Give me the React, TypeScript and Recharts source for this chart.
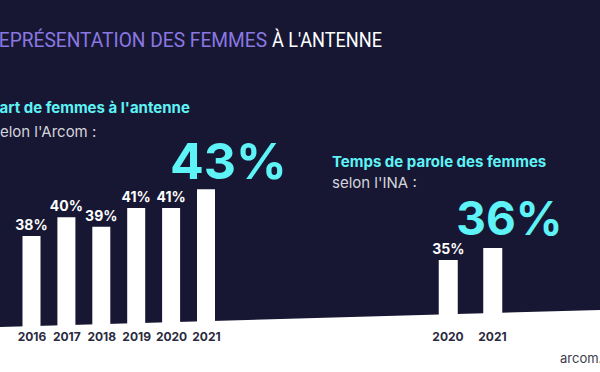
import { BarChart, Bar, XAxis, YAxis } from "recharts";

// Part de femmes à l'antenne (Arcom)
const arcomYears = ["2016", "2017", "2018", "2019", "2020", "2021"];
const arcomValues = [38, 40, 39, 41, 41, 43];

// Temps de parole des femmes (INA)
const inaYears = ["2020", "2021"];
const inaValues = [35, 36];

const arcomData = arcomYears.map((year, i) => ({ year, value: arcomValues[i] }));
const inaData = inaYears.map((year, i) => ({ year, value: inaValues[i] }));

const NAVY = "#171733";
const CYAN = "#5ef3f6";
const PURPLE = "#8a78e2";
const FONT = "Inter, 'Noto Sans', sans-serif";

function makeLabel(lastIndex: number, bigSize: number, bigGap: number) {
    return (props: any) => {
        const { x, y, width, value, index } = props;
        if (index === lastIndex) {
            return (
                <text x={x - 27} y={y - bigGap} fill={CYAN} fontFamily={FONT} fontWeight={700} fontSize={bigSize}>
                    {value}%
                </text>
            );
        }
        return (
            <text x={x + width / 2} y={y - 6} textAnchor="middle" fill="#ffffff" fontFamily={FONT} fontWeight={700} fontSize={14}>
                {value}%
            </text>
        );
    };
}

export default function App() {
    return (
        <div style={{ position: "fixed", left: 0, top: 0, width: 600, height: 372, background: NAVY, overflow: "hidden" }}>
            <svg width={600} height={372} style={{ position: "absolute", left: 0, top: 0 }}>
                <polygon points="0,327 600,310 600,372 0,372" fill="#ffffff" />
                <text x={-13} y={47} fill={PURPLE} fontFamily="'Liberation Sans Narrow', Roboto, sans-serif" fontSize={21} textLength={280} lengthAdjust="spacingAndGlyphs">
                    REPRÉSENTATION DES FEMMES
                </text>
                <text x={272} y={47} fill="#ffffff" fontFamily="'Liberation Sans Narrow', Roboto, sans-serif" fontSize={21} textLength={110} lengthAdjust="spacingAndGlyphs">
                    À L'ANTENNE
                </text>
                <text x={-10} y={112.5} fill={CYAN} fontFamily={FONT} fontWeight={700} fontSize={15}>
                    Part de femmes à l'antenne
                </text>
                <text x={-8} y={136.5} fill="#d4d4dc" fontFamily={FONT} fontSize={15}>
                    selon l'Arcom :
                </text>
                <text x={332} y={166.5} fill={CYAN} fontFamily={FONT} fontWeight={700} fontSize={15}>
                    Temps de parole des femmes
                </text>
                <text x={332} y={187.5} fill="#d4d4dc" fontFamily={FONT} fontSize={15}>
                    selon l'INA :
                </text>
                <text x={560} y={363} fill="#3b3b4a" fontFamily={FONT} fontSize={13}>
                    arcom.fr
                </text>
            </svg>

            <div style={{ position: "absolute", left: 0, top: 0 }}>
                <BarChart width={300} height={372} data={arcomData} margin={{ top: 100, right: 76.1, bottom: 30, left: 14.5 }}>
                    <XAxis dataKey="year" height={12} axisLine={false} tickLine={false} tickSize={1} tickMargin={1.5}
                        tick={{ fill: "#2a2a40", fontSize: 12, fontWeight: 700, fontFamily: FONT }} interval={0} />
                    <YAxis hide domain={[28, 52.5]} />
                    <Bar dataKey="value" fill="#ffffff" barSize={18} isAnimationActive={false} label={makeLabel(arcomValues.length - 1, 50, 10)} />
                </BarChart>
            </div>

            <div style={{ position: "absolute", left: 400, top: 0 }}>
                <BarChart width={200} height={372} data={inaData} margin={{ top: 190, right: 85.25, bottom: 35, left: 25.75 }}>
                    <XAxis dataKey="year" height={12} axisLine={false} tickLine={false} tickSize={1} tickMargin={6.5}
                        tick={{ fill: "#2a2a40", fontSize: 12, fontWeight: 700, fontFamily: FONT }} interval={0} />
                    <YAxis hide domain={[29.58, 40.83]} />
                    <Bar dataKey="value" fill="#ffffff" barSize={19} isAnimationActive={false} label={makeLabel(inaValues.length - 1, 46, 13)} />
                </BarChart>
            </div>
        </div>
    );
}
